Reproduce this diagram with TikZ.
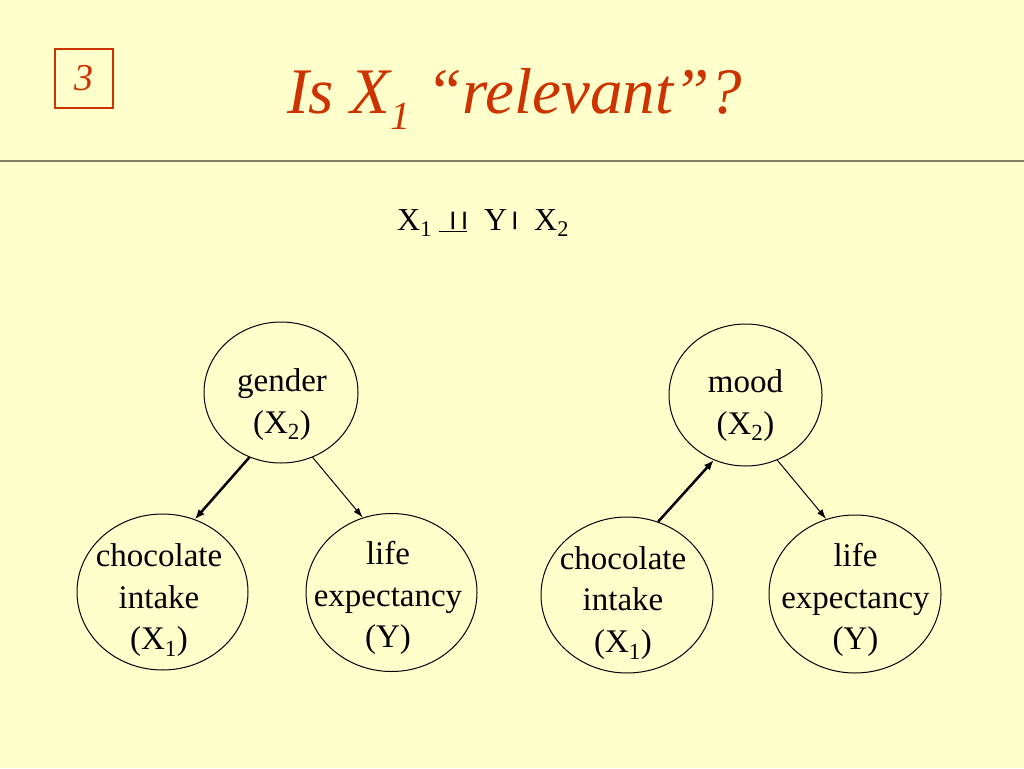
\documentclass[tikz,border=0pt]{standalone}
\usepackage{fontspec}
\usepackage{graphicx}
\setmainfont{Liberation Serif}
\newfontfamily\nodefont{Liberation Serif}
\newfontfamily\titlefont{Liberation Serif}
\usetikzlibrary{shapes.geometric,arrows.meta}
\definecolor{bg}{HTML}{FFFFCC}
\definecolor{titlered}{HTML}{CC3300}
\definecolor{rulecol}{HTML}{7F7F66}
\newcommand{\indbar}{\raisebox{4.2pt}{\scalebox{1.5}[0.6]{|}}}
\begin{document}
\begin{tikzpicture}[x=1pt,y=-1pt,
  ell/.style={draw=black, line width=1pt, ellipse, inner sep=0pt},
  lbl/.style={font=\nodefont\fontsize{33}{41.5}\selectfont, align=center, inner sep=0pt},
  form/.style={font=\nodefont\fontsize{32}{36}\selectfont, inner sep=0pt, anchor=base west},
  thickarr/.style={line width=2.5pt, -{Latex[length=10pt,width=8pt]}},
  thinarr/.style={line width=1pt, -{Latex[length=10pt,width=6.5pt]}}
]
\fill[bg] (0,0) rectangle (1024,768);
\useasboundingbox (0,0) rectangle (1024,768);

% header
\node[draw=titlered, line width=2pt, minimum width=58pt, minimum height=59pt, inner sep=0pt,
      text=titlered, font=\titlefont\itshape\fontsize{38}{38}\selectfont] (numbox) at (84,78.5) {3};
\node[anchor=base, inner sep=0pt, text=titlered, font=\titlefont\itshape\fontsize{65}{70}\selectfont]
  (title) at (514.5,113) {Is X\raisebox{-16pt}{\fontsize{40}{40}\selectfont 1} “relevant”?};
\coordinate (rl) at (0,161);
\coordinate (rr) at (1024,161);
\draw[rulecol, line width=2pt] (rl) -- (rr);

% formula
\node[form] (fx1) at (397,230) {X\textsubscript{1}};
\node[form] (find) at (439,230) {\underline{\hbox to 28pt{\hskip 9pt\indbar\kern2pt\indbar\hss}}};
\node[form] (fy) at (484,230) {Y};
\node[form] (fbar) at (510,230) {\indbar};
\node[form] (fx2) at (534,230) {X\textsubscript{2}};

% left graph
\node[ell, minimum width=154pt, minimum height=141pt] (g) at (281,392.5) {};
\node[ell, minimum width=171pt, minimum height=156pt] (cl) at (162.5,592) {};
\node[ell, minimum width=171pt, minimum height=158pt] (ll) at (391.5,592.5) {};
\node[lbl] (gt) at (282,404.4) {gender\\(X\textsubscript{2})};
\node[lbl] (clt) at (159,600.5) {chocolate\\intake\\(X\textsubscript{1})};
\node[lbl] (llt) at (388,598) {life\\expectancy\\(Y)};
\draw[thickarr] (g.244) -- (cl.66);
\draw[thinarr] (g.296) -- (ll.111);

% right graph
\node[ell, minimum width=153pt, minimum height=142pt] (m) at (745.5,395) {};
\node[ell, minimum width=172pt, minimum height=156pt] (cr) at (627,595) {};
\node[ell, minimum width=172pt, minimum height=158pt] (lr) at (855,594) {};
\node[lbl] (mt) at (745.5,405.4) {mood\\(X\textsubscript{2})};
\node[lbl] (crt) at (623,603) {chocolate\\intake\\(X\textsubscript{1})};
\node[lbl] (lrt) at (855.5,600) {life\\expectancy\\(Y)};
\draw[thickarr] (cr.67) -- (m.244.5);
\draw[thinarr] (m.296) -- (lr.111);
\end{tikzpicture}
\end{document}
